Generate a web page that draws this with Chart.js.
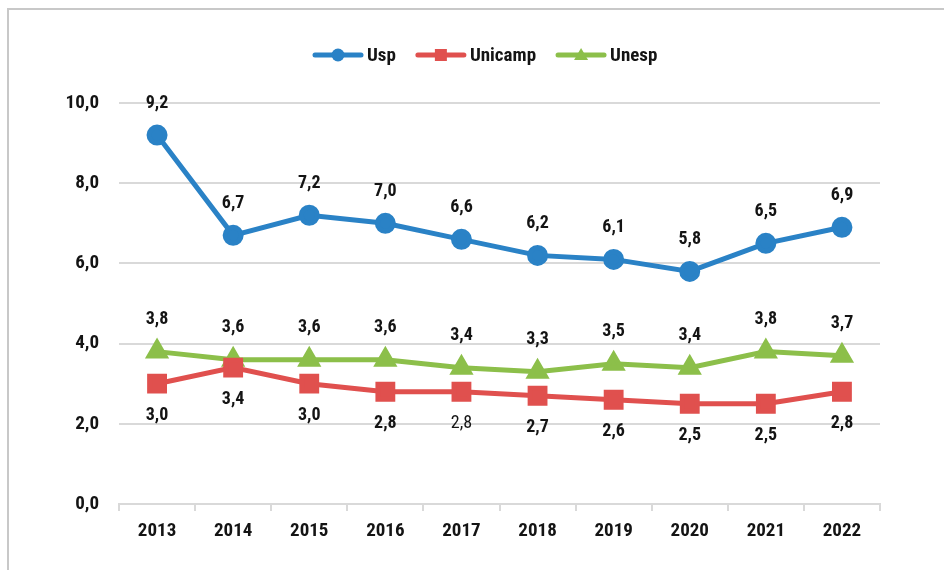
<!DOCTYPE html>
<html>
<head>
<meta charset="utf-8">
<script src="https://cdn.jsdelivr.net/npm/chart.js@4"></script>
<style>
html,body{margin:0;padding:0;background:#fff;}
#wrap{position:relative;width:944px;height:570px;}
</style>
</head>
<body>
<div id="wrap"><canvas id="c" width="944" height="570"></canvas></div>
<script>
const categories = ['2013','2014','2015','2016','2017','2018','2019','2020','2021','2022'];
const usp     = [9.2, 6.7, 7.2, 7.0, 6.6, 6.2, 6.1, 5.8, 6.5, 6.9];
const unicamp = [3.0, 3.4, 3.0, 2.8, 2.8, 2.7, 2.6, 2.5, 2.5, 2.8];
const unesp   = [3.8, 3.6, 3.6, 3.6, 3.4, 3.3, 3.5, 3.4, 3.8, 3.7];
const yTicks  = [0, 2, 4, 6, 8, 10];

const FONT = '"Roboto Condensed", "Liberation Sans Narrow", sans-serif';
const BLUE = '#2A82C6', RED = '#E0504E', GREEN = '#8CBF4A';
const TEXT = '#141414';

const fmt = v => v.toFixed(1).replace('.', ',');

const framePlugin = {
  id: 'frame',
  beforeDraw(chart) {
    const ctx = chart.ctx;
    ctx.save();
    ctx.strokeStyle = '#c8c8c8';
    ctx.lineWidth = 2;
    ctx.beginPath();
    ctx.moveTo(8, 570);
    ctx.lineTo(8, 9);
    ctx.lineTo(944, 9);
    ctx.stroke();
    ctx.restore();
  }
};

const labelPlugin = {
  id: 'vlabels',
  afterDatasetsDraw(chart) {
    const ctx = chart.ctx;
    ctx.save();
    ctx.fillStyle = TEXT;
    ctx.textAlign = 'center';
    ctx.textBaseline = 'middle';
    chart.data.datasets.forEach((ds, di) => {
      const meta = chart.getDatasetMeta(di);
      const above = ds.labelPos === 'above';
      meta.data.forEach((pt, i) => {
        const bold = !(di === 1 && i === 4);
        ctx.font = (bold ? 'bold ' : '') + '18px ' + FONT;
        ctx.fillText(fmt(ds.data[i]), pt.x, pt.y + (above ? -32 : 32));
      });
    });
    ctx.restore();
  }
};

const legendPlugin = {
  id: 'customLegend',
  afterDraw(chart) {
    const ctx = chart.ctx;
    ctx.save();
    ctx.font = 'bold 19px ' + FONT;
    ctx.textBaseline = 'middle';
    const y = 55, lineW = 50, gapT = 4, gapI = 20;
    let x = 313;
    chart.data.datasets.forEach(ds => {
      const w = ctx.measureText(ds.label).width;
      ctx.strokeStyle = ds.borderColor;
      ctx.lineWidth = 5;
      ctx.lineCap = 'round';
      ctx.beginPath();
      ctx.moveTo(x + 2, y);
      ctx.lineTo(x + lineW - 2, y);
      ctx.stroke();
      const cx = x + lineW / 2;
      ctx.fillStyle = ds.borderColor;
      ctx.beginPath();
      if (ds.pointStyle === 'circle') { ctx.arc(cx, y, 6.5, 0, Math.PI * 2); }
      else if (ds.pointStyle === 'rect') { ctx.rect(cx - 6, y - 6, 12, 12); }
      else { ctx.moveTo(cx, y - 7); ctx.lineTo(cx + 7, y + 5); ctx.lineTo(cx - 7, y + 5); ctx.closePath(); }
      ctx.fill();
      ctx.fillStyle = TEXT;
      ctx.fillText(ds.label, x + lineW + gapT, y + 1);
      x += lineW + gapT + w + gapI;
    });
    ctx.restore();
  }
};

new Chart(document.getElementById('c'), {
  type: 'line',
  data: {
    labels: categories,
    datasets: [
      {label: 'Usp', data: usp, borderColor: BLUE, backgroundColor: BLUE, borderWidth: 5,
       pointStyle: 'circle', pointRadius: 8, pointHoverRadius: 8, labelPos: 'above'},
      {label: 'Unicamp', data: unicamp, borderColor: RED, backgroundColor: RED, borderWidth: 5,
       pointStyle: 'rect', pointRadius: 10.5, pointHoverRadius: 10.5, labelPos: 'below'},
      {label: 'Unesp', data: unesp, borderColor: GREEN, backgroundColor: GREEN, borderWidth: 5,
       pointStyle: 'triangle', pointRadius: 9, pointHoverRadius: 9, labelPos: 'above'}
    ]
  },
  options: {
    responsive: false,
    animation: false,
    layout: {padding: {top: 103, right: 64, left: 0, bottom: 0}},
    plugins: {legend: {display: false}, tooltip: {enabled: false}},
    elements: {line: {tension: 0}, point: {borderWidth: 0}},
    scales: {
      x: {
        offset: true,
        grid: {offset: true, drawOnChartArea: false, drawTicks: true, tickLength: 7, color: '#d9d9d9', lineWidth: 2},
        border: {display: true, color: '#d9d9d9', width: 2},
        ticks: {color: TEXT, font: {family: FONT, size: 19, weight: 'bold'}, padding: 9},
        afterFit: s => { s.height = 66; }
      },
      y: {
        min: 0, max: 10,
        afterBuildTicks: s => { s.ticks = yTicks.map(v => ({value: v})); },
        grid: {drawTicks: false, color: '#d9d9d9', lineWidth: 2},
        border: {display: false},
        ticks: {color: TEXT, padding: 20, font: {family: FONT, size: 19, weight: 'bold'},
                callback: v => fmt(v)},
        afterFit: s => { s.width = 119; }
      }
    }
  },
  plugins: [framePlugin, labelPlugin, legendPlugin]
});
</script>
</body>
</html>
